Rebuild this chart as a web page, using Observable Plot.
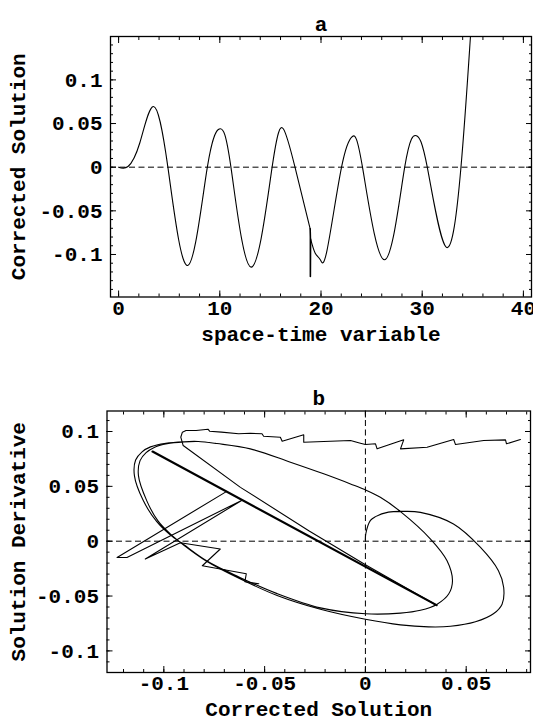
<!DOCTYPE html>
<html><head><meta charset="utf-8">
<script src="https://cdn.jsdelivr.net/npm/d3@7"></script>
<script src="https://cdn.jsdelivr.net/npm/@observablehq/plot@0.6"></script>
<style>
body{margin:0;background:#fff;}
#wrap{width:533px;height:724px;overflow:hidden;background:#fff;}
#wrap svg{display:block;}
</style></head><body><div id="wrap"></div>
<script>
// ---------- Panel a data ----------
const aSeg1X = [0, 0.93, 2.1, 3.43, 4.87, 6.83, 8.77, 10.03, 11.1, 13.1, 15.17, 16.27, 17.43, 18.93];
const aSeg1Y = [0, 0.0008, 0.028, 0.0695, 0, -0.1126, 0, 0.044, 0, -0.1145, 0, 0.044, 0, -0.0706];
const aSpikeX = [18.93, 18.95, 18.95, 18.97];
const aSpikeY = [-0.0706, -0.0802, -0.1252, -0.082];
const aSeg2X = [18.97, 19.43, 19.93, 20.6, 22.03, 23.1, 24.1, 26.27, 28.27, 29.43, 30.5, 32.37, 33.83, 34.77, 35.2];
const aSeg2Y = [-0.082, -0.0985, -0.106, -0.095, 0, 0.0352, 0, -0.106, 0, 0.036, 0, -0.0916, 0, 0.15, 0.22];
const aXTicks = [0, 10, 20, 30, 40];
const aXTickLabels = ["0", "10", "20", "30", "40"];
const aYTicks = [-0.1, -0.05, 0, 0.05, 0.1];
const aYTickLabels = ["-0.1", "-0.05", "0", "0.05", "0.1"];

// ---------- Panel b data ----------
const bTrajX = [0, 0.0002, 0.0025, 0.005, 0.0114, 0.0189, 0.0273, 0.0437, 0.0571, 0.066, 0.0686, 0.0678, 0.0635, 0.0546, 0.0422, 0.0313, 0.0174, 0, -0.0223, -0.0438, -0.062, -0.0786, -0.0902,
  -0.0968, -0.1030, -0.1085, -0.1126, -0.1118, -0.1088, -0.1050, -0.0984, -0.0900, -0.0830, -0.0736, -0.0571, -0.0372, -0.0207, -0.0074, 0, 0.0074, 0.0174, 0.0323, 0.0405, 0.0432, 0.0413, 0.0356, 0.0273, 0.0174, 0, -0.0223, -0.0438, -0.0620, -0.0786, -0.0902,
  -0.0970, -0.1036, -0.1102, -0.1146, -0.1140, -0.1108, -0.1066, -0.0990, -0.0900, -0.0830, -0.0736, -0.0571, -0.0372, -0.0207, -0.0074, 0, 0.0074, 0.0174, 0.0323, 0.0405, 0.0432, 0.0413, 0.0356, 0.0273, 0.0174, 0, -0.0223, -0.0438, -0.0620, -0.0700];
const bTrajY = [0, 0.0068, 0.019, 0.0224, 0.0265, 0.0272, 0.0263, 0.0157, -0.0057, -0.0269, -0.0422, -0.0574, -0.0662, -0.0735, -0.0776, -0.0781, -0.0763, -0.0712, -0.0621, -0.0495, -0.0345, -0.0185, -0.0035,
  0.0066, 0.0187, 0.0370, 0.0598, 0.0735, 0.0808, 0.0853, 0.0888, 0.0905, 0.0909, 0.0890, 0.0842, 0.0720, 0.0614, 0.0522, 0.0468, 0.0400, 0.0270, 0.0020, -0.0178, -0.0361, -0.0482, -0.0574, -0.0630, -0.0656, -0.0662, -0.0608, -0.0478, -0.0333, -0.0180, -0.0030,
  0.0060, 0.0180, 0.0370, 0.0598, 0.0740, 0.0815, 0.0860, 0.0893, 0.0907, 0.0909, 0.0890, 0.0842, 0.0720, 0.0614, 0.0522, 0.0468, 0.0400, 0.0270, 0.0020, -0.0178, -0.0361, -0.0482, -0.0574, -0.0630, -0.0656, -0.0662, -0.0608, -0.0478, -0.0333, -0.0260];
const bThickX = [-0.1056, 0.0353];
const bThickY = [0.0817, -0.0583];
const bThinX = [0.0353, 0, -0.0281, -0.062, -0.0904, -0.0916, -0.0908, -0.089, -0.084, -0.0781, -0.0773, -0.0714, -0.0629, -0.0571, -0.0513, -0.0505, -0.0422, -0.0413, -0.0306, -0.0306, -0.0074, -0.0025, 0, 0.005, 0.0058, 0.019, 0.0174, 0.0306, 0.0438, 0.0447, 0.0587, 0.0695, 0.07, 0.0769];
const bThinY = [-0.0583, -0.0215, 0.0096, 0.0491, 0.0872, 0.0948, 0.0994, 0.1009, 0.1009, 0.1021, 0.1003, 0.0994, 0.0979, 0.0984, 0.0979, 0.0957, 0.0948, 0.0911, 0.097, 0.0902, 0.0918, 0.0893, 0.0881, 0.0888, 0.0842, 0.0924, 0.0842, 0.0857, 0.0927, 0.0881, 0.0918, 0.0924, 0.0888, 0.0927];
const bZigX = [-0.069, -0.1232, -0.1183, -0.0612, -0.1092, -0.0918, -0.072, -0.0809, -0.0591, -0.0598, -0.0529];
const bZigY = [0.0452, -0.0148, -0.0148, 0.0374, -0.0163, -0.0014, -0.0071, -0.0224, -0.0297, -0.037, -0.0388];
const bXTicks = [-0.1, -0.05, 0, 0.05];
const bXTickLabels = ["-0.1", "-0.05", "0", "0.05"];
const bYTicks = [-0.1, -0.05, 0, 0.05, 0.1];
const bYTickLabels = ["-0.1", "-0.05", "0", "0.05", "0.1"];

const FONT = "'Liberation Mono', 'Courier New', monospace";
const STYLE = {fontFamily: FONT, fontSize: "21px", fontWeight: "bold", color: "black", background: "white"};

function idx(a) { return a.map((_, i) => i); }
function minorRange(lo, hi, step) { return d3.range(Math.round(lo / step), Math.round(hi / step) + 1).map(k => +(k * step).toFixed(6)); }

function frameTicks(xMaj, xMin, yMaj, yMin) {
  const o = {fill: "none", label: null, strokeWidth: 1};
  return [
    Plot.axisX(xMaj, {...o, anchor: "bottom", tickSize: -6}),
    Plot.axisX(xMaj, {...o, anchor: "top", tickSize: -6}),
    Plot.axisX(xMin, {...o, anchor: "bottom", tickSize: -3}),
    Plot.axisX(xMin, {...o, anchor: "top", tickSize: -3}),
    Plot.axisY(yMaj, {...o, anchor: "left", tickSize: -6}),
    Plot.axisY(yMaj, {...o, anchor: "right", tickSize: -6}),
    Plot.axisY(yMin, {...o, anchor: "left", tickSize: -3}),
    Plot.axisY(yMin, {...o, anchor: "right", tickSize: -3})
  ];
}

// ---------- Panel a ----------
const chartA = Plot.plot({
  width: 533, height: 350,
  marginTop: 36, marginBottom: 53.5, marginLeft: 110, marginRight: 2,
  style: STYLE,
  x: {domain: [-0.8, 40.8], axis: null},
  y: {domain: [-0.1487, 0.1497], axis: null},
  marks: [
    Plot.ruleY([0], {stroke: "black", strokeDasharray: "6,3.5", strokeWidth: 1}),
    Plot.line(idx(aSeg1X), {x: aSeg1X, y: aSeg1Y, curve: "natural", stroke: "black", strokeWidth: 1.1, clip: true}),
    Plot.line(idx(aSpikeX), {x: aSpikeX, y: aSpikeY, stroke: "black", strokeWidth: 1.6, clip: true}),
    Plot.line(idx(aSeg2X), {x: aSeg2X, y: aSeg2Y, curve: "natural", stroke: "black", strokeWidth: 1.1, clip: true}),
    ...frameTicks(aXTicks, minorRange(0, 40, 2), aYTicks, minorRange(-0.14, 0.14, 0.01)),
    Plot.frame({stroke: "black", strokeWidth: 1.3}),
    Plot.axisX(aXTicks, {anchor: "bottom", tickSize: 0, tickPadding: 3, label: null, tickFormat: d => aXTickLabels[aXTicks.indexOf(d)]}),
    Plot.axisY(aYTicks, {anchor: "left", tickSize: 0, tickPadding: 8, label: null, tickFormat: d => aYTickLabels[aYTicks.indexOf(d)]}),
    Plot.text(["a"], {frameAnchor: "top", dy: -20, text: d => d}),
    Plot.text(["space-time variable"], {frameAnchor: "bottom", dy: 44, text: d => d}),
    Plot.text(["Corrected Solution"], {frameAnchor: "left", textAnchor: "middle", dx: -92, rotate: -90, text: d => d})
  ]
});

// ---------- Panel b ----------
const chartB = Plot.plot({
  width: 533, height: 374,
  marginTop: 60.5, marginBottom: 52, marginLeft: 106.5, marginRight: 3,
  style: STYLE,
  x: {domain: [-0.1282, 0.0819], axis: null},
  y: {domain: [-0.1197, 0.1187], axis: null},
  marks: [
    Plot.ruleY([0], {stroke: "black", strokeDasharray: "6,3.5", strokeWidth: 1}),
    Plot.ruleX([0], {stroke: "black", strokeDasharray: "6,3.5", strokeWidth: 1}),
    Plot.line(idx(bTrajX), {x: bTrajX, y: bTrajY, curve: "catmull-rom", stroke: "black", strokeWidth: 1.1}),
    Plot.line(idx(bThickX), {x: bThickX, y: bThickY, stroke: "black", strokeWidth: 2.2}),
    Plot.line(idx(bThinX), {x: bThinX, y: bThinY, stroke: "black", strokeWidth: 1.1}),
    Plot.line(idx(bZigX), {x: bZigX, y: bZigY, stroke: "black", strokeWidth: 1.1}),
    ...frameTicks(bXTicks, minorRange(-0.12, 0.08, 0.01), bYTicks, minorRange(-0.11, 0.11, 0.01)),
    Plot.frame({stroke: "black", strokeWidth: 1.3}),
    Plot.axisX(bXTicks, {anchor: "bottom", tickSize: 0, tickPadding: 3, label: null, tickFormat: d => bXTickLabels[bXTicks.indexOf(d)]}),
    Plot.axisY(bYTicks, {anchor: "left", tickSize: 0, tickPadding: 8, label: null, tickFormat: d => bYTickLabels[bYTicks.indexOf(d)]}),
    Plot.text(["b"], {frameAnchor: "top", dy: -20.5, text: d => d}),
    Plot.text(["Corrected Solution"], {frameAnchor: "bottom", dy: 43, text: d => d}),
    Plot.text(["Solution Derivative"], {frameAnchor: "left", textAnchor: "middle", dx: -88.5, rotate: -90, text: d => d})
  ]
});

document.getElementById("wrap").append(chartA, chartB);
</script>
</body></html>
